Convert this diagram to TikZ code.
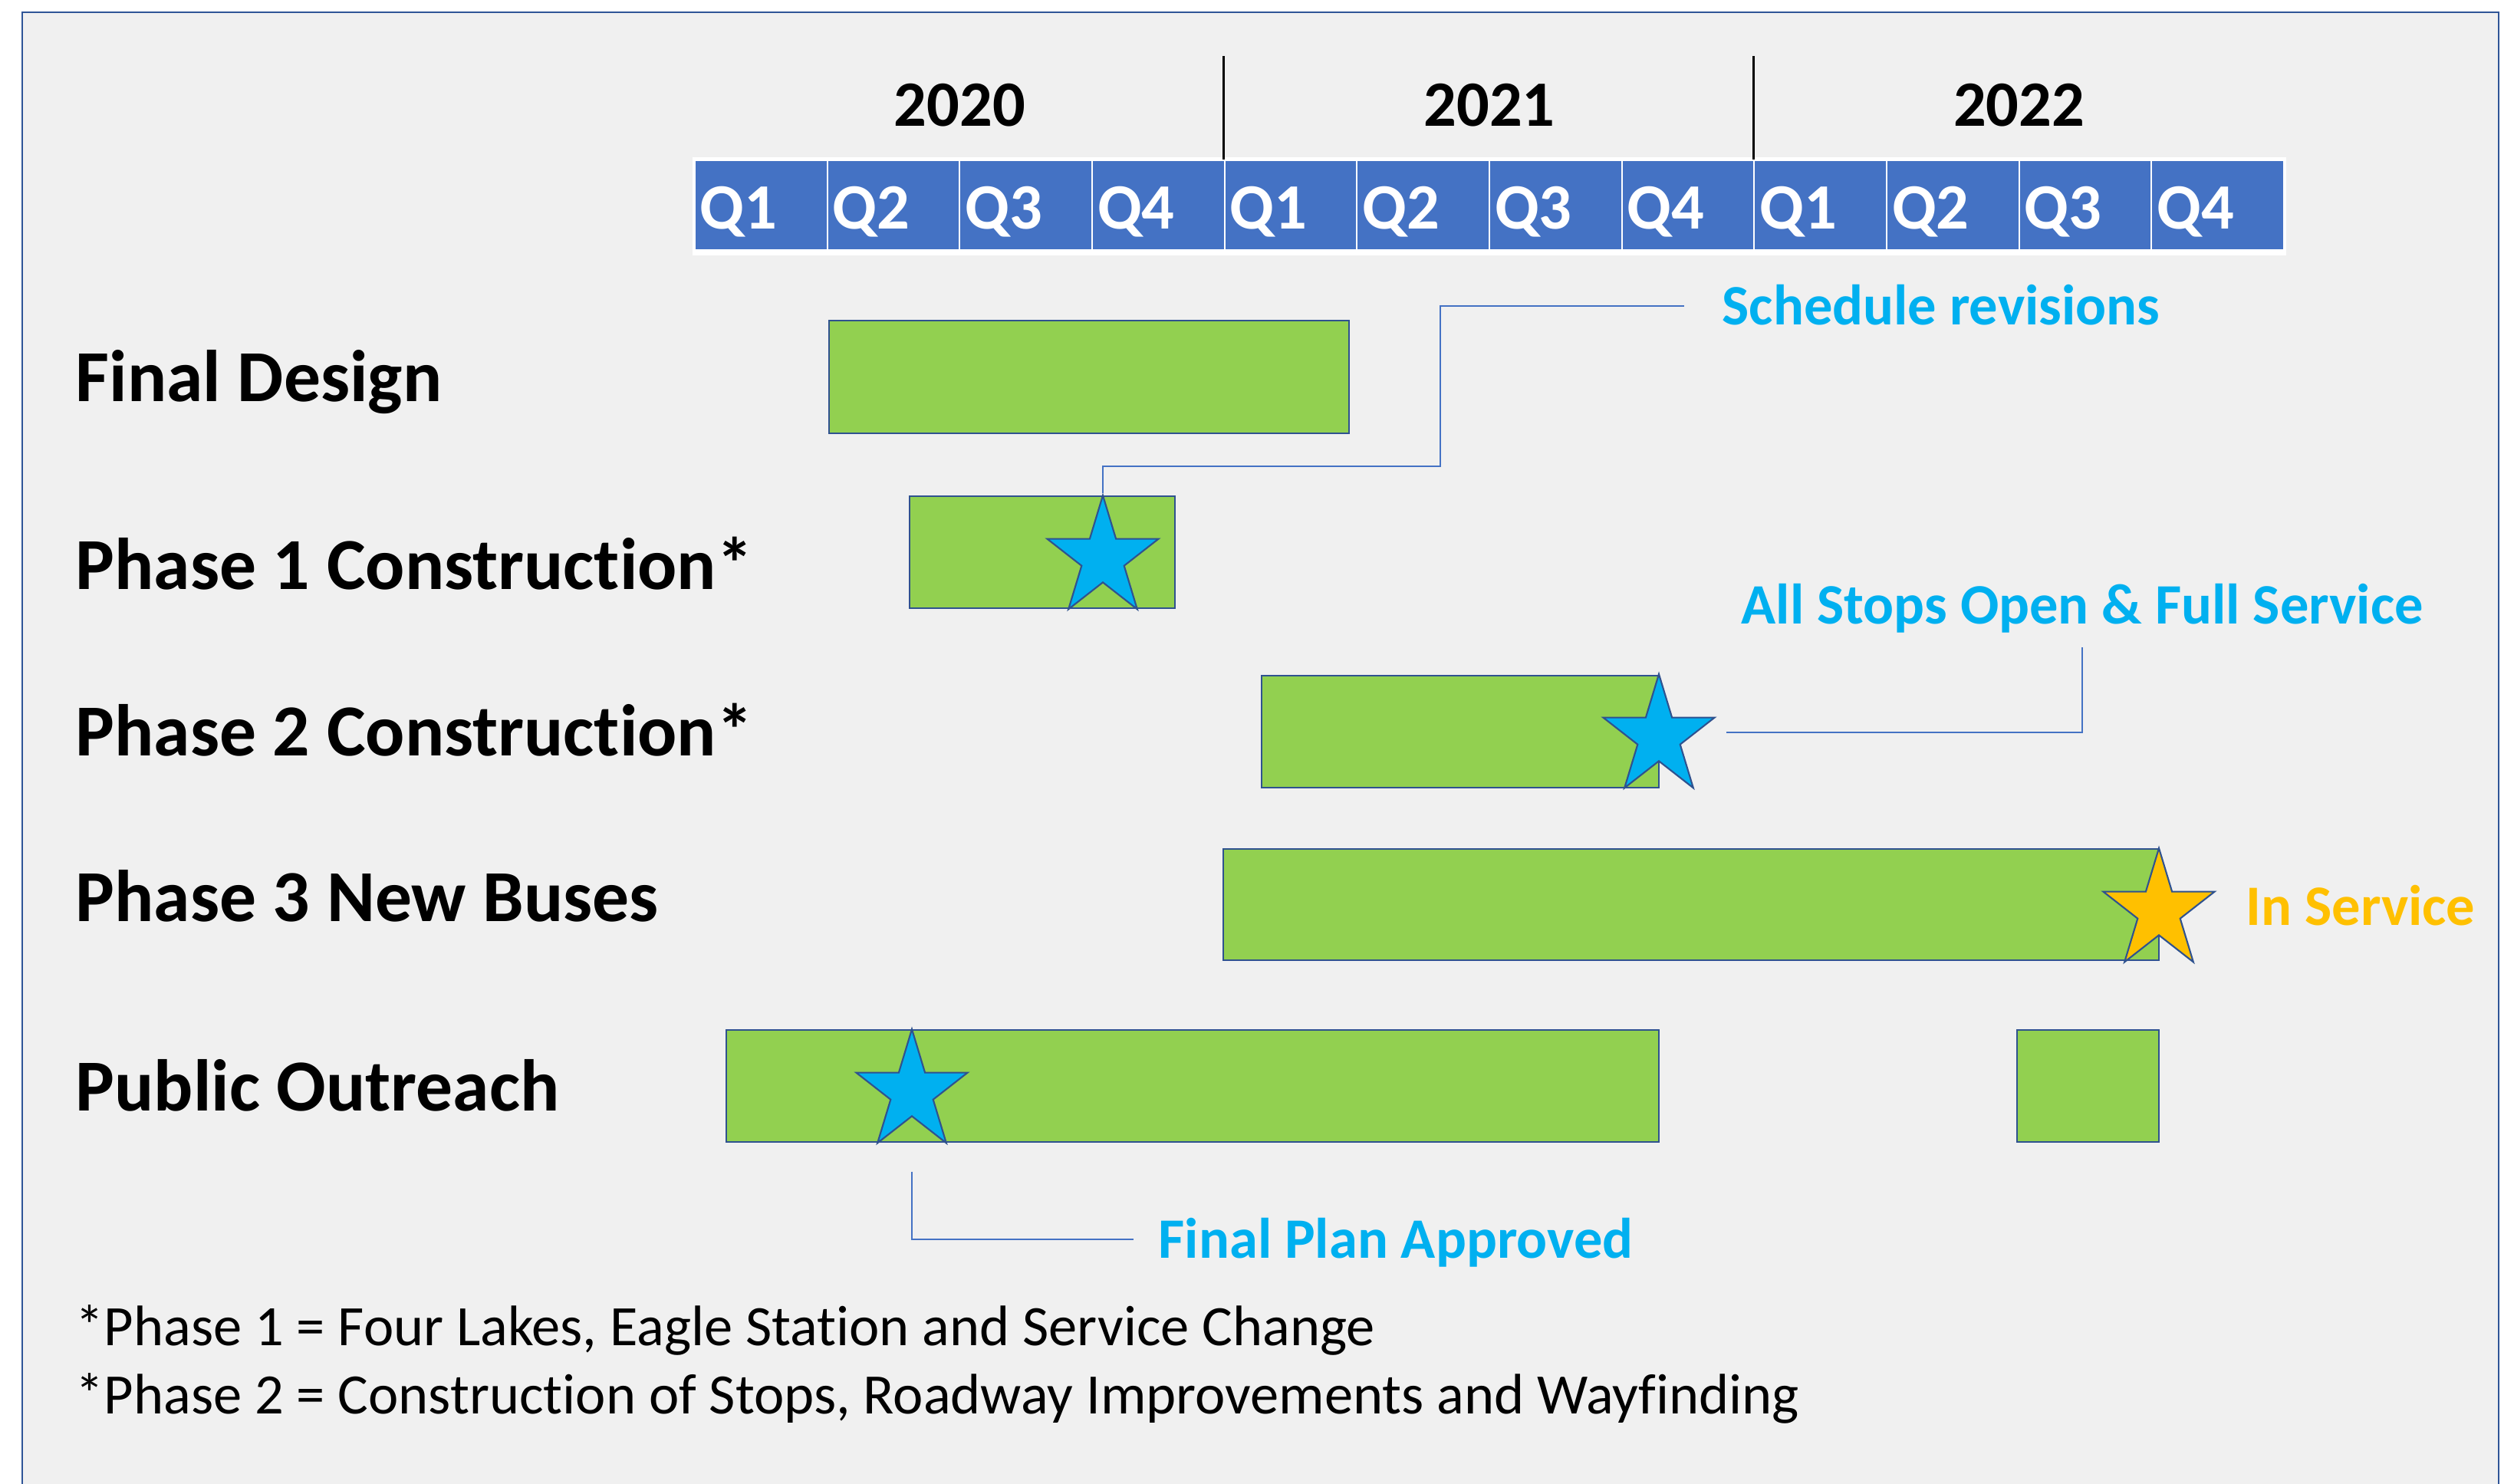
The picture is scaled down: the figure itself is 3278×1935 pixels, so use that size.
\documentclass[tikz,border=0pt]{standalone}
\usepackage{fontspec}
\setmainfont{Carlito}[Ligatures=NoCommon]
\usepackage{tikz}
\usetikzlibrary{shapes.geometric, calc}

\definecolor{panel}{HTML}{F0F0F0}
\definecolor{frameblue}{HTML}{2F5597}
\definecolor{qblue}{HTML}{4472C4}
\definecolor{bargreen}{HTML}{92D050}
\definecolor{edgeblue}{HTML}{2F528F}
\definecolor{starblue}{HTML}{00B0F0}
\definecolor{staryel}{HTML}{FFC000}

\begin{document}
\begin{tikzpicture}[x=0.1mm, y=-0.1mm,
  qcell/.style={rectangle, fill=qblue, draw=white, line width=0.6pt, minimum width=17.27mm, minimum height=11.7mm, text width=15.87mm, inner xsep=0.7mm, inner ysep=0pt, align=left, text=white, text height=6.2mm, text depth=0pt, font=\bfseries\fontsize{24pt}{28pt}\selectfont},
  yearlbl/.style={anchor=base, inner sep=0pt, font=\bfseries\fontsize{24pt}{28pt}\selectfont},
  yearline/.style={draw=black, line width=0.9pt},
  bar/.style={fill=bargreen, draw=edgeblue, line width=0.7pt},
  milestone/.style={star, star points=5, star point ratio=2.618, minimum size=16.4mm, inner sep=0pt, xscale=0.93, fill=starblue, draw=edgeblue, line width=0.6pt},
  rowlbl/.style={anchor=base west, inner sep=0pt, font=\bfseries\fontsize{27.2pt}{32pt}\selectfont},
  note/.style={anchor=base west, inner sep=0pt, text height=4.8mm, text depth=0pt, text=starblue, font=\bfseries\fontsize{21.2pt}{26pt}\selectfont},
  callout/.style={draw=qblue, line width=0.5pt},
  foot/.style={anchor=base west, inner sep=0pt, font=\fontsize{21.2pt}{25pt}\selectfont}]

  \useasboundingbox (0,0) rectangle (3278,1935);
  \fill[white] (0,0) rectangle (3278,1935);
  \fill[panel] (29,16) rectangle (3258,1935);
  \draw[frameblue, line width=0.8pt] (29,1935) -- (29,16) -- (3258,16) -- (3258,1935);

  % quarters and years
  \fill[white] (903,205) rectangle (2981,333);
  \foreach \i in {0,...,11} {
    \pgfmathtruncatemacro\qn{mod(\i,4)+1}
    \node (q\i) [qcell] at ({906+(\i+0.5)*172.67},267.5) {Q\qn};
  }
  \foreach \yr [count=\k from 0] in {2020,2021,2022}
    \node (y\yr) [yearlbl] at ({906+(4*\k+2)*172.67},164) {\yr};
  \draw[yearline] (q4.north west) -- ++(0,-135);
  \draw[yearline] (q8.north west) -- ++(0,-135);

  % rows
  \node (fd) [rowlbl] at (98,523) {Final Design};
  \node (p1) [rowlbl] at (98,768) {Phase 1 Construction*};
  \node (p2) [rowlbl] at (98,985) {Phase 2 Construction*};
  \node (p3) [rowlbl] at (98,1201) {Phase 3 New Buses};
  \node (po) [rowlbl] at (98,1448) {Public Outreach};

  \draw[bar] (1081,418) rectangle (1759,565);
  \draw[bar] (1186,647) rectangle (1532,793);
  \draw[bar] (1645,881) rectangle (2163,1027);
  \draw[bar] (1595,1107) rectangle (2815,1252);
  \draw[bar] (947,1343) rectangle (2163,1489);
  \draw[bar] (2630,1343) rectangle (2815,1489);

  % milestones
  \node (s1) [milestone] at (1438,728) {};
  \node (s2) [milestone] at (2163,961) {};
  \node (s3) [milestone, fill=staryel] at (2815,1188) {};
  \node (s4) [milestone] at (1189,1424) {};

  \node (sched) [note] at (2245,423) {Schedule revisions};
  \node (open) [note] at (2270,813) {All Stops Open \& Full Service};
  \node (serv) [note, text=staryel] at (2928,1206) {In Service};
  \node (plan) [note] at (1510,1640) {Final Plan Approved};

  \draw[callout, shorten >=4.9mm] (s1.north) |- (1878,608) |- (sched.west);
  \draw[callout, shorten <=4.6mm, shorten >=3mm] ([yshift=0.6mm]s2.east) -| (open.south);
  \draw[callout, shorten <=7.1mm, shorten >=3.2mm] (s4.south) |- (plan.west);

  % footnotes
  \node (n1) [foot] at (98,1754) {*Phase 1 = Four Lakes, Eagle Station and Service Change};
  \node (n2) [foot] at (98,1843) {*Phase 2 = Construction of Stops, Roadway Improvements and Wayfinding};
\end{tikzpicture}
\end{document}
